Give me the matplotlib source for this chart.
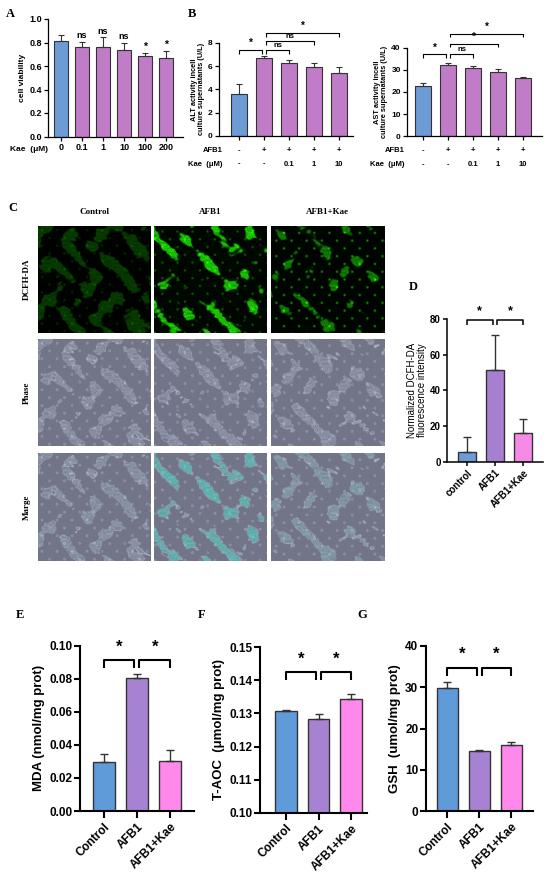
import numpy as np
import matplotlib
matplotlib.use("Agg")
from matplotlib import pyplot as plt

plt.rcParams['font.family'] = ['Liberation Sans', 'DejaVu Sans']

W, H = 550, 884

# ---------------- data ----------------
kae_doses = ["0", "0.1", "1", "10", "100", "200"]
viab_mean = [0.815, 0.76, 0.76, 0.74, 0.685, 0.67]
viab_err = [0.045, 0.045, 0.085, 0.06, 0.025, 0.06]
viab_sig = ["", "ns", "ns", "ns", "*", "*"]

afb1_row = ["-", "+", "+", "+", "+"]
kae_row = ["-", "-", "0.1", "1", "10"]
alt_mean = [3.6, 6.65, 6.25, 5.95, 5.4]
alt_err = [0.9, 0.2, 0.25, 0.28, 0.55]
ast_mean = [22.9, 32.2, 30.7, 29.0, 26.1]
ast_err = [1.0, 1.0, 1.1, 1.4, 0.6]

img_cols = ["Control", "AFB1", "AFB1+Kae"]
img_rows = ["DCFH-DA", "Phase", "Marge"]

d_groups = ["control", "AFB1", "AFB1+Kae"]
dcfh_mean = [5.6, 51.3, 16.2]
dcfh_err = [8.1, 19.7, 7.8]

groups3 = ["Control", "AFB1", "AFB1+Kae"]
mda_mean = [0.0298, 0.0806, 0.030]
mda_err = [0.0045, 0.0025, 0.0069]
taoc_mean = [0.1308, 0.1282, 0.1345]
taoc_err = [0.0003, 0.0015, 0.0013]
gsh_mean = [29.7, 14.6, 16.0]
gsh_err = [1.5, 0.2, 0.8]

BLUE_AB = '#6C9BD6'
PURP_AB = '#C07CC6'
BLUE = '#5F9BD8'
PURP = '#A882D2'
PINK = '#FF88EC'

fig = plt.figure(figsize=(W / 100, H / 100), dpi=100)


def px_axes(l, t, r, b):
    return fig.add_axes([l / W, 1 - b / H, (r - l) / W, (b - t) / H])


def style(ax, lw, fs):
    for s in ['top', 'right']:
        ax.spines[s].set_visible(False)
    ax.spines['left'].set_linewidth(lw)
    ax.spines['bottom'].set_linewidth(lw)
    ax.tick_params(width=lw, length=3, direction='out', labelsize=fs, pad=1.5)
    for t in ax.get_yticklabels() + ax.get_xticklabels():
        t.set_fontweight('bold')


def draw_bars(ax, means, errs, colors, width, elw, cap):
    x = np.arange(len(means))
    ax.bar(x, means, width, color=colors, edgecolor='#333333', linewidth=elw, zorder=2)
    ax.errorbar(x, means, yerr=[np.zeros(len(means)), errs], fmt='none',
                ecolor='#333333', elinewidth=elw, capsize=cap, capthick=elw, zorder=3)
    return x


def bracket(ax, x1, x2, y, leg_px, label, fs, text_px, lw):
    y0, y1 = ax.get_ylim()
    leg = leg_px * (y1 - y0) / ax.bbox.height
    ax.plot([x1, x1, x2, x2], [y - leg, y, y, y - leg], color='k', lw=lw,
            clip_on=False, solid_capstyle='butt')
    ax.annotate(label, xy=((x1 + x2) / 2, y), xytext=(0, text_px * 0.72),
                textcoords='offset points', ha='center', va='center',
                fontsize=fs, fontweight='bold', annotation_clip=False)


def panel_letter(x, y, s):
    fig.text(x / W, 1 - y / H, s, ha='center', va='center', fontsize=9,
             fontweight='bold', family='Liberation Serif')


# ---------------- A ----------------
axA = px_axes(48, 19, 183, 136.5)
xa = draw_bars(axA, viab_mean, viab_err, [BLUE_AB] + [PURP_AB] * 5, 0.65, 0.8, 2.5)
axA.set_xlim(-0.62, 5.81)
axA.set_ylim(0, 1.0)
axA.set_yticks([0, 0.2, 0.4, 0.6, 0.8, 1.0])
axA.set_yticklabels(["0.0", "0.2", "0.4", "0.6", "0.8", "1.0"])
axA.set_xticks(xa)
axA.set_xticklabels(kae_doses)
axA.set_ylabel("cell viability", fontsize=6, fontweight='bold', labelpad=2)
style(axA, 0.9, 6.5)
for i, s in enumerate(viab_sig):
    if s:
        axA.annotate(s, xy=(i, viab_mean[i] + viab_err[i]), xytext=(0, 6 * 0.72),
                     textcoords='offset points', ha='center', va='center',
                     fontsize=6.5 if s == "ns" else 7.5, fontweight='bold')
fig.text(29 / W, 1 - 149 / H, "Kae  (μM)", ha='center', va='center',
         fontsize=6, fontweight='bold')
panel_letter(10, 14, "A")


# ---------------- B ----------------
def table_rows(ax, right_px):
    for i in range(len(afb1_row)):
        ax.annotate(afb1_row[i], xy=(i, 0), xycoords=('data', 'axes fraction'),
                    xytext=(0, -14.5 * 0.72), textcoords='offset points',
                    ha='center', va='center', fontsize=5.5, fontweight='bold')
        ax.annotate(kae_row[i], xy=(i, 0), xycoords=('data', 'axes fraction'),
                    xytext=(0, -28 * 0.72), textcoords='offset points',
                    ha='center', va='center', fontsize=5.5, fontweight='bold')
    fig.text(right_px / W, 1 - 150.5 / H, "AFB1", ha='right', va='center',
             fontsize=5.5, fontweight='bold')
    fig.text(right_px / W, 1 - 164 / H, "Kae  (μM)", ha='right', va='center',
             fontsize=5.5, fontweight='bold')


axB1 = px_axes(219, 42.7, 353, 136)
draw_bars(axB1, alt_mean, alt_err, [BLUE_AB] + [PURP_AB] * 4, 0.62, 0.8, 2.5)
axB1.set_xlim(-0.8, 4.56)
axB1.set_ylim(0, 8)
axB1.set_yticks([0, 2, 4, 6, 8])
axB1.set_xticks(range(5))
axB1.set_xticklabels([])
axB1.set_ylabel("ALT activity incell\nculture supernatants (U/L)", fontsize=5.3,
                fontweight='bold', labelpad=2, linespacing=1.0)
style(axB1, 0.9, 6)
table_rows(axB1, 223)
for x1, x2, y, lab, lp in [(0, 0.92, 7.37, "*", 3.5), (1.08, 2, 7.37, "ns", 3.5),
                           (1.08, 3, 8.14, "ns", 3.5), (1.08, 4, 8.85, "*", 4)]:
    bracket(axB1, x1, x2, y, lp, lab, 7 if lab == "*" else 5.5,
            7 if lab == "*" else 4.5, 0.8)
panel_letter(192, 14, "B")

axB2 = px_axes(407, 47.7, 542, 136.3)
draw_bars(axB2, ast_mean, ast_err, [BLUE_AB] + [PURP_AB] * 4, 0.62, 0.8, 2.5)
axB2.set_xlim(-0.64, 4.76)
axB2.set_ylim(0, 40)
axB2.set_yticks([0, 10, 20, 30, 40])
axB2.set_xticks(range(5))
axB2.set_xticklabels([])
axB2.set_ylabel("AST activity incell\nculture supernatants (U/L)", fontsize=5.3,
                fontweight='bold', labelpad=2, linespacing=1.0)
style(axB2, 0.9, 6)
table_rows(axB2, 405)
for x1, x2, y, lab in [(0, 0.92, 37.0, "*"), (1.08, 2, 37.0, "ns"),
                       (1.08, 3, 41.8, "*"), (1.08, 4, 46.4, "*")]:
    bracket(axB2, x1, x2, y, 3.5, lab, 7 if lab == "*" else 5.5,
            6.5 if lab == "*" else 4.5, 0.8)


# ---------------- C (micrographs, drawn as a plain texture) ----------------
def cell_field(nx, ny, ph):
    X, Y = np.meshgrid(np.linspace(0, 1, nx), np.linspace(0, 1, ny))
    f = (np.sin(21 * X + 2.7 * np.sin(9 * Y + ph)) +
         np.sin(17 * Y + 2.2 * np.sin(12 * X + 2 * ph)) +
         0.7 * np.sin(29 * (X - Y) + 3 * ph) +
         0.5 * np.sin(61 * X + 3 * np.sin(23 * Y)) * np.sin(57 * Y + ph))
    spots = np.sin(47 * X + ph) * np.sin(43 * Y + 2 * ph)
    grain = 0.5 + 0.5 * np.sin(190 * X + 7 * np.sin(60 * Y)) * np.sin(175 * Y + 5 * np.sin(40 * X) + ph)
    return f, spots, grain


def phase_img(f, spots, grain):
    cell = np.clip((f - 1.0) / 0.25, 0, 1)
    rim = np.exp(-((f - 1.0) / 0.09) ** 2) + np.exp(-((spots - 0.92) / 0.04) ** 2)
    rim = np.clip(rim, 0, 1) * (0.6 + 0.4 * grain)
    base = np.array([0.45, 0.46, 0.53])
    lite = np.array([0.86, 0.89, 0.98])
    v = 0.45 * cell * grain + 0.7 * rim
    v = np.clip(v, 0, 1)
    img = base[None, None, :] * (1 - v[..., None]) + lite[None, None, :] * v[..., None]
    return img


def green_img(f, spots, grain, level, thr, speck):
    g = np.clip((f - thr) / 0.5, 0, 1) * (0.5 + 0.5 * grain)
    g = g + speck * np.clip((spots - 0.8) / 0.2, 0, 1)
    g = np.clip(g * level + 0.06 * level * grain, 0, 1)
    img = np.zeros(f.shape + (3,))
    img[..., 1] = g
    img[..., 0] = 0.12 * g
    return img


col_px = [(38, 151), (154, 267), (271, 384)]
row_px = [(226, 333), (339, 446), (453, 561)]
phases = [0.0, 1.3, 2.6]
levels = [0.28, 0.95, 0.6]
thrs = [0.3, 1.0, 1.3]
specks = [0.6, 0.4, 1.0]
tint = [0.05, 0.6, 0.15]
for c in range(3):
    f, spots, grain = cell_field(200, 190, phases[c])
    gimg = green_img(f, spots, grain, levels[c], thrs[c], specks[c])
    pimg = phase_img(f, spots, grain)
    m = (tint[c] * np.clip((f - 1.0) / 0.4, 0, 1) * (0.5 + 0.5 * grain))[..., None]
    mimg = pimg * (1 - m) + np.array([0.2, 0.85, 0.75])[None, None, :] * m
    for r, im in enumerate([gimg, pimg, mimg]):
        ax = px_axes(col_px[c][0], row_px[r][0], col_px[c][1], row_px[r][1])
        ax.imshow(im, aspect='auto', interpolation='bilinear')
        ax.set_axis_off()
    fig.text((col_px[c][0] + col_px[c][1]) / 2 / W, 1 - 212 / H, img_cols[c],
             ha='center', va='center', fontsize=6.5, fontweight='bold',
             family='Liberation Serif')
for r in range(3):
    fig.text(27 / W, 1 - (row_px[r][0] + row_px[r][1]) / 2 / H, img_rows[r],
             ha='center', va='center', rotation=90, fontsize=6.5,
             fontweight='bold', family='Liberation Serif')
panel_letter(13, 208, "C")

# ---------------- D ----------------
axD = px_axes(447, 319, 543, 461.5)
draw_bars(axD, dcfh_mean, dcfh_err, ['#6E9BD6', '#A67FD0', '#F58BE6'], 0.66, 1.0, 3)
axD.set_xlim(-0.71, 2.71)
axD.set_ylim(0, 80)
axD.set_yticks([0, 20, 40, 60, 80])
axD.set_xticks(range(3))
axD.set_xticklabels(d_groups, rotation=45, ha='right', rotation_mode='anchor')
axD.set_ylabel("Normalized DCFH-DA\nfluorescence intensity", fontsize=7,
               labelpad=2, linespacing=1.0)
style(axD, 1.1, 7)
bracket(axD, 0, 0.92, 79.4, 5, "*", 9, 9, 1.1)
bracket(axD, 1.08, 2, 79.4, 5, "*", 9, 9, 1.1)
panel_letter(413, 287, "D")


# ---------------- E, F, G ----------------
def bottom_panel(box, means, errs, ylim, ticks, fmt, ylabel, brk_y, xlim):
    ax = px_axes(*box)
    draw_bars(ax, means, errs, [BLUE, PURP, PINK], 0.66, 1.0, 3)
    ax.set_xlim(*xlim)
    ax.set_ylim(*ylim)
    ax.set_yticks(ticks)
    ax.set_yticklabels([fmt.format(t) for t in ticks])
    ax.set_xticks(range(3))
    ax.set_xticklabels(groups3, rotation=45, ha='right', rotation_mode='anchor')
    ax.set_ylabel(ylabel, fontsize=9.5, fontweight='bold', labelpad=3)
    style(ax, 1.5, 8.5)
    ax.tick_params(axis='x', length=5, pad=2, labelsize=8.5)
    ax.tick_params(axis='y', length=4)
    bracket(ax, 0, 0.92, brk_y, 8, "*", 12, 13, 1.5)
    bracket(ax, 1.08, 2, brk_y, 8, "*", 12, 13, 1.5)
    return ax


bottom_panel((80, 645.7, 194, 811), mda_mean, mda_err, (0, 0.10),
             [0, 0.02, 0.04, 0.06, 0.08, 0.10], "{:.2f}", "MDA (nmol/mg prot)",
             0.0913, (-0.71, 2.72))
bottom_panel((260, 647.3, 367, 812.7), taoc_mean, taoc_err, (0.10, 0.15),
             [0.10, 0.11, 0.12, 0.13, 0.14, 0.15], "{:.2f}", "T-AOC  (μmol/mg prot)",
             0.1424, (-0.8, 2.49))
bottom_panel((426, 645.7, 533, 811.3), gsh_mean, gsh_err, (0, 40),
             [0, 10, 20, 30, 40], "{:.0f}", "GSH  (umol/mg prot)",
             34.7, (-0.66, 2.68))
panel_letter(20, 615, "E")
panel_letter(202, 615, "F")
panel_letter(362, 615, "G")

fig.savefig("out.png", dpi=100)
